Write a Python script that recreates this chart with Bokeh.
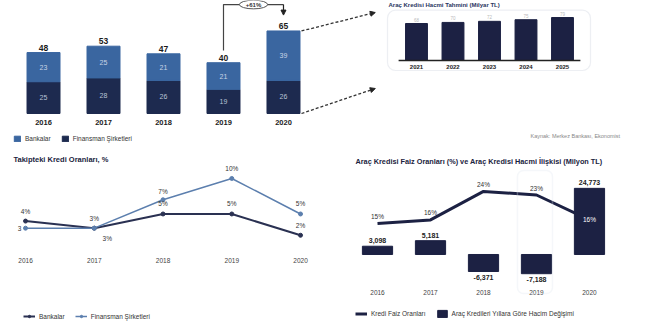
from bokeh.plotting import figure
from bokeh.layouts import row, column
from bokeh.models import (Range1d, ColumnDataSource, Label, Legend, LegendItem,
                          Arrow, NormalHead, BoxAnnotation)
from bokeh.core.properties import value
from bokeh.embed import file_html
from bokeh.resources import INLINE

# ---------------- data ----------------
years = [2016, 2017, 2018, 2019, 2020]
bankalar_hacim = [23, 25, 21, 21, 39]
finansman_hacim = [25, 28, 26, 19, 26]
growth_label = "+61%"

forecast_years = ["2021", "2022", "2023", "2024", "2025"]
forecast_values = [68, 70, 72, 75, 79]

npl_bankalar = [4, 3, 5, 5, 2]
npl_finansman = [3, 3, 7, 10, 5]

faiz_orani = [15, 16, 24, 23, 16]
hacim_degisimi = [3098, 5181, -6371, -7188, 24773]

FONT = "Liberation Sans"
NAVY = "#1d2a4f"
BLUE = "#3a66a0"
DARK = "#1c2143"
LBLUE = "#5c7fae"


def base(w, h, xr, yr):
    p = figure(width=w, height=h, x_range=xr, y_range=yr, output_backend="svg",
               toolbar_location=None, x_axis_location=None, y_axis_location=None,
               min_border=0, outline_line_color=None)
    p.grid.visible = False
    p.background_fill_color = "white"
    p.border_fill_color = "white"
    return p


def txt(p, src, size, color, weight="normal", align="center", baseline="middle",
        xo=0, yo=0, **kw):
    return p.text(x="x", y="y", text="t", source=src, text_font=value(FONT),
                  text_font_size=size, text_color=color, text_font_style=weight,
                  text_align=align, text_baseline=baseline, x_offset=xo, y_offset=yo, **kw)


# ---------------- top-left: stacked bars ----------------
p1 = base(380, 150, Range1d(2015.283, 2021.617), Range1d(-29.13, 88.98))
totals = [a + b for a, b in zip(bankalar_hacim, finansman_hacim)]
src1 = ColumnDataSource(dict(year=years, fin=finansman_hacim, bank=bankalar_hacim))
rs = p1.vbar_stack(["fin", "bank"], x="year", width=0.55, color=[NAVY, BLUE], source=src1)
txt(p1, ColumnDataSource(dict(x=years, y=[f / 2 for f in finansman_hacim],
                              t=[str(v) for v in finansman_hacim])), "7px", "#b8c3d6")
txt(p1, ColumnDataSource(dict(x=years, y=[f + b / 2 for f, b in zip(finansman_hacim, bankalar_hacim)],
                              t=[str(v) for v in bankalar_hacim])), "7px", "#c9d4e6")
txt(p1, ColumnDataSource(dict(x=years, y=totals, t=[str(v) for v in totals])),
    "8.5px", "#1a1a1a", "bold", baseline="bottom", yo=-2)
txt(p1, ColumnDataSource(dict(x=years, y=[0] * 5, t=[str(y) for y in years])),
    "7.5px", "#222", "bold", yo=9)

# growth bracket
p1.line(x=[years[3], years[3], years[4]], y=[49.6, 85.8, 85.8], line_color="#444", line_width=1.2)
p1.add_layout(Arrow(x_start=years[4], y_start=85.8, x_end=years[4], y_end=77.5,
                    line_color="#222", line_width=1.2,
                    end=NormalHead(size=5, fill_color="#222", line_color="#222")))
p1.ellipse(x=[(years[3] + years[4]) / 2], y=[85.8], width=0.47, height=6.8,
           fill_color="white", line_color="#555", line_width=1)
txt(p1, ColumnDataSource(dict(x=[(years[3] + years[4]) / 2], y=[85.8], t=[growth_label])),
    "6px", "#333", "bold")

# dashed connectors
for ys, ye in [(totals[4], 79.5), (0, 19.7)]:
    p1.add_layout(Arrow(x_start=years[4] + 0.3, y_start=ys, x_end=2021.53, y_end=ye,
                        line_color="#333", line_width=1.3, line_dash="3 2",
                        end=NormalHead(size=5, fill_color="#222", line_color="#222")))

leg1 = Legend(items=[LegendItem(label="Bankalar", renderers=[rs[1]]),
                     LegendItem(label="Finansman Şirketleri", renderers=[rs[0]])],
              location=(13, 8), orientation="horizontal", padding=0, margin=0,
              spacing=10, glyph_width=8, glyph_height=7, label_height=8,
              label_standoff=4, label_text_font=FONT, label_text_font_size="6.5px",
              label_text_color="#333", background_fill_alpha=0, border_line_color=None)
p1.add_layout(leg1)

# ---------------- top-right: forecast bars ----------------
p2 = base(273, 150, Range1d(-0.986, 6.493), Range1d(-165.4, 110.3))
fx = list(range(len(forecast_years)))
p2.add_layout(Label(x=8, y=145.5, x_units="screen", y_units="screen",
                    text="Araç Kredisi Hacmi Tahmini (Milyar TL)", text_font=FONT,
                    text_font_size="6px", text_font_style="bold", text_color="#2a3560",
                    text_baseline="middle"))
p2.add_layout(BoxAnnotation(left=-0.794, right=4.767, top=92.5, bottom=-18.4,
                            fill_alpha=0, line_color="#c5cbd8", line_width=1.2,
                            border_radius=8))
p2.vbar(x=fx, top=forecast_values, width=0.6, color=DARK)
p2.segment(x0=[-0.49], y0=[0], x1=[4.49], y1=[0], line_color="#222", line_width=1.5)
txt(p2, ColumnDataSource(dict(x=fx, y=forecast_values, t=[str(v) for v in forecast_values])),
    "4.5px", "#bbb", baseline="bottom", yo=-2)
txt(p2, ColumnDataSource(dict(x=fx, y=[0] * 5, t=forecast_years)), "6px", "#222", "bold", yo=6)
p2.add_layout(Label(x=150, y=15, x_units="screen", y_units="screen",
                    text="Kaynak: Merkez Bankası, Ekonomist", text_font=FONT,
                    text_font_size="5.5px", text_color="#888", text_baseline="middle"))

# ---------------- bottom-left: NPL lines ----------------
p3 = base(330, 179, Range1d(2015.636, 2020.436), Range1d(-11.27, 13.94))
p3.add_layout(Label(x=13, y=170, x_units="screen", y_units="screen",
                    text="Takipteki Kredi Oranları, %", text_font=FONT,
                    text_font_size="7.5px", text_font_style="bold", text_color="#1a2340",
                    text_baseline="middle"))
lb = p3.line(years, npl_bankalar, line_color="#2a3152", line_width=2)
mb = p3.scatter(years, npl_bankalar, size=4, color="#2a3152")
lf = p3.line(years, npl_finansman, line_color=LBLUE, line_width=1.5)
mf = p3.scatter(years, npl_finansman, size=4, color=LBLUE)
txt(p3, ColumnDataSource(dict(x=years, y=npl_bankalar, t=[f"{v}%" for v in npl_bankalar])),
    "6.5px", "#333", yo=-10)
fin_lab = ["3"] + [f"{v}%" for v in npl_finansman[1:]]
txt(p3, ColumnDataSource(dict(x=years, y=npl_finansman, t=fin_lab,
                              xo=[-6, 13, 0, 0, 0], yo=[0, 10, -8, -10, -10])),
    "6.5px", "#333", xo="xo", yo="yo")
txt(p3, ColumnDataSource(dict(x=years, y=[0] * 5, t=[str(y) for y in years])),
    "6.5px", "#444", yo=11)
leg3 = Legend(items=[LegendItem(label="Bankalar", renderers=[lb, mb]),
                     LegendItem(label="Finansman Şirketleri", renderers=[lf, mf])],
              location=(23, 9), orientation="horizontal", padding=0, margin=0,
              spacing=10, glyph_width=12, glyph_height=6, label_height=8,
              label_standoff=4, label_text_font=FONT, label_text_font_size="6.5px",
              label_text_color="#333", background_fill_alpha=0, border_line_color=None)
p3.add_layout(leg3)

# ---------------- bottom-right: rate vs volume ----------------
p4 = base(323, 179, Range1d(2015.113, 2021.208), Range1d(-28090, 38951))
p4.extra_y_ranges = {"rate": Range1d(-14.78, 35.5)}
p4.add_layout(Label(x=25, y=168, x_units="screen", y_units="screen",
                    text="Araç Kredisi Faiz Oranları (%) ve Araç Kredisi Hacmi İlişkisi (Milyon TL)",
                    text_font=FONT, text_font_size="7.3px", text_font_style="bold",
                    text_color="#1a2340", text_baseline="middle"))
p4.add_layout(BoxAnnotation(left=2018.641, right=2019.302, top=31460, bottom=-14607,
                            fill_alpha=0, line_color="#dfe5ef", line_width=1.5,
                            border_radius=6))
lr = p4.line(years, faiz_orani, y_range_name="rate", line_color=DARK, line_width=3)
vb = p4.vbar(x=years, top=hacim_degisimi, bottom=0, width=0.57, color=DARK)
pos = [v >= 0 for v in hacim_degisimi]
txt(p4, ColumnDataSource(dict(x=years, y=hacim_degisimi, t=[f"{v:,}" for v in hacim_degisimi],
                              b=["bottom" if s else "top" for s in pos],
                              yo=[-3 if s else 3 for s in pos])),
    "7px", "#222", "bold", baseline="b", yo="yo")
p4.text(x="x", y="y", text="t", y_range_name="rate",
        source=ColumnDataSource(dict(x=years, y=faiz_orani, t=[f"{v}%" for v in faiz_orani],
                                     c=["#333"] * 4 + ["white"], yo=[-7] * 4 + [0])),
        text_font=value(FONT), text_font_size="6.5px", text_color="c",
        text_align="center", text_baseline="middle", y_offset="yo")
txt(p4, ColumnDataSource(dict(x=years, y=[0] * 5, t=[str(y) for y in years])),
    "6.5px", "#444", yo=38)
leg4 = Legend(items=[LegendItem(label="Kredi Faiz Oranları", renderers=[lr]),
                     LegendItem(label="Araç Kredileri Yıllara Göre Hacim Değişimi", renderers=[vb])],
              location=(25, 11), orientation="horizontal", padding=0, margin=0,
              spacing=10, glyph_width=12, glyph_height=9, label_height=9,
              label_standoff=4, label_text_font=FONT, label_text_font_size="6.5px",
              label_text_color="#333", background_fill_alpha=0, border_line_color=None)
p4.add_layout(leg4)

layout = column(row(p1, p2), row(p3, p4))
open("out.html", "w").write(file_html(layout, INLINE))
